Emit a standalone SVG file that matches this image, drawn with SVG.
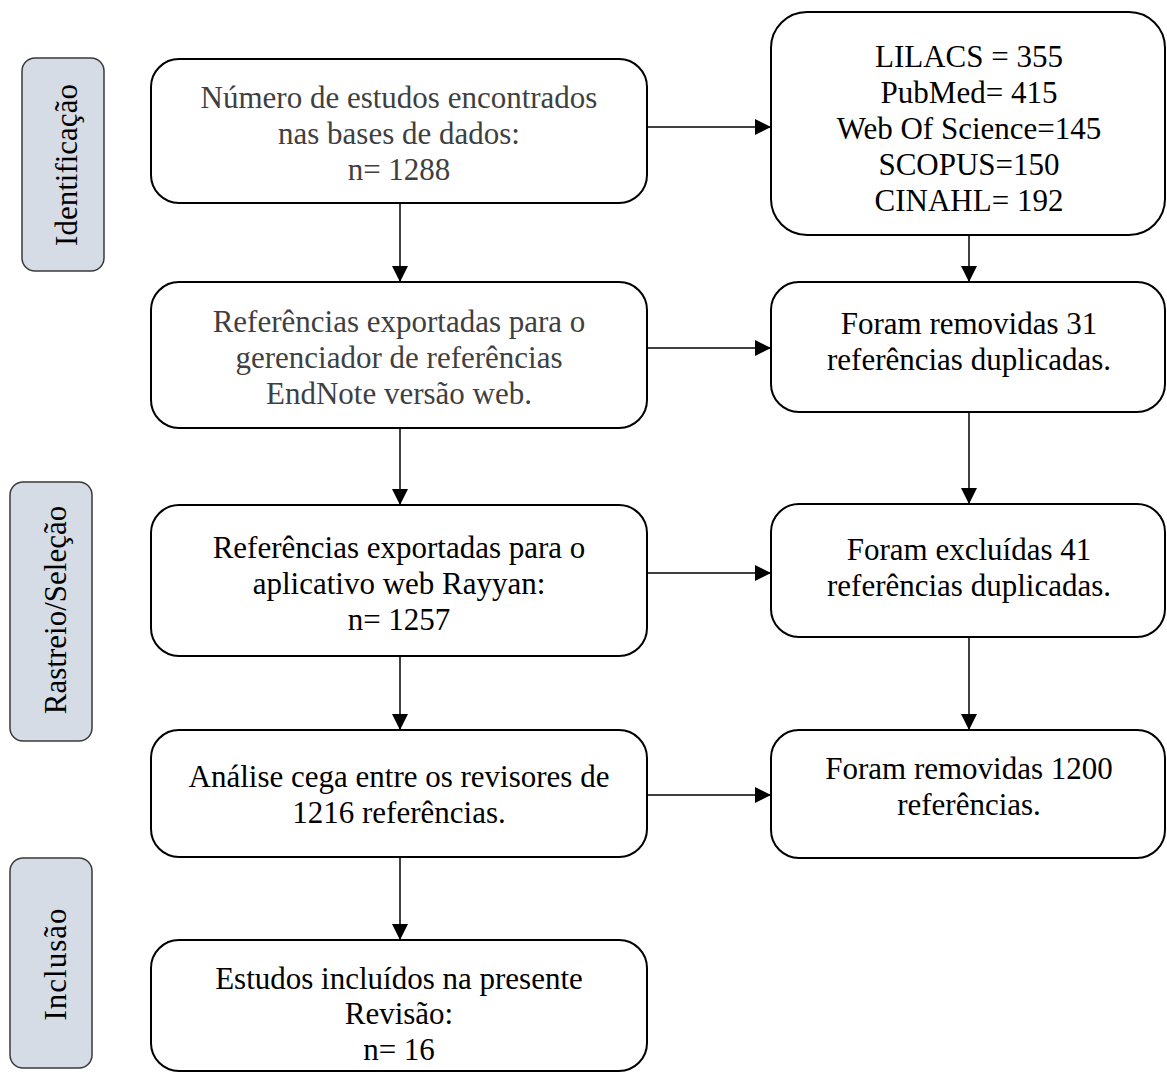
<svg xmlns="http://www.w3.org/2000/svg" width="1167" height="1073" viewBox="0 0 1167 1073">
<defs>
<marker id="ah" markerWidth="16" markerHeight="16" viewBox="0 0 16 16" refX="16" refY="8" orient="auto" markerUnits="userSpaceOnUse">
<path d="M0,0 L16,8 L0,16 Z" fill="#000"/>
</marker>
</defs>
<style>
.box{fill:#fff;stroke:#000;stroke-width:2}
.side{fill:#d6dce5;stroke:#3a3a3a;stroke-width:1.5}
.t{font-family:"Liberation Serif","Times New Roman",serif;font-size:31px;fill:#000;text-anchor:middle}
.g{fill:#3f3f3f}
.c{stroke:#000;stroke-width:1.5;fill:none;marker-end:url(#ah)}
</style>
<rect width="1167" height="1073" fill="#fff"/>

<g id="side-identificacao">
<rect class="side" x="22" y="58" width="82" height="213" rx="13"/>
<text class="t" transform="translate(77,165) rotate(-90)">Identificação</text>
</g>
<g id="side-rastreio">
<rect class="side" x="10" y="482" width="82" height="259" rx="13"/>
<text class="t" transform="translate(66,610) rotate(-90)">Rastreio/Seleção</text>
</g>
<g id="side-inclusao">
<rect class="side" x="10" y="858" width="82" height="210" rx="13"/>
<text class="t" transform="translate(66,964) rotate(-90)" letter-spacing="1">Inclusão</text>
</g>

<g id="n1">
<rect class="box" x="151" y="59" width="496" height="144" rx="28"/>
<text class="t g" x="399" y="108">Número de estudos encontrados</text>
<text class="t g" x="399" y="144">nas bases de dados:</text>
<text class="t g" x="399" y="180">n= 1288</text>
</g>
<g id="n2">
<rect class="box" x="151" y="282" width="496" height="146" rx="28"/>
<text class="t g" x="399" y="332">Referências exportadas para o</text>
<text class="t g" x="399" y="368">gerenciador de referências</text>
<text class="t g" x="399" y="404">EndNote versão web.</text>
</g>
<g id="n3">
<rect class="box" x="151" y="505" width="496" height="151" rx="28"/>
<text class="t" x="399" y="558">Referências exportadas para o</text>
<text class="t" x="399" y="594">aplicativo web Rayyan:</text>
<text class="t" x="399" y="630">n= 1257</text>
</g>
<g id="n4">
<rect class="box" x="151" y="730" width="496" height="127" rx="28"/>
<text class="t" x="399" y="787">Análise cega entre os revisores de</text>
<text class="t" x="399" y="823">1216 referências.</text>
</g>
<g id="n5">
<rect class="box" x="151" y="940" width="496" height="131" rx="28"/>
<text class="t" x="399" y="989">Estudos incluídos na presente</text>
<text class="t" x="399" y="1024">Revisão:</text>
<text class="t" x="399" y="1060">n= 16</text>
</g>

<g id="r1">
<rect class="box" x="771" y="12" width="394" height="223" rx="36"/>
<text class="t" x="969" y="67">LILACS = 355</text>
<text class="t" x="969" y="103">PubMed= 415</text>
<text class="t" x="969" y="139">Web Of Science=145</text>
<text class="t" x="969" y="175">SCOPUS=150</text>
<text class="t" x="969" y="211">CINAHL= 192</text>
</g>
<g id="r2">
<rect class="box" x="771" y="282" width="394" height="130" rx="28"/>
<text class="t" x="969" y="334">Foram removidas 31</text>
<text class="t" x="969" y="370">referências duplicadas.</text>
</g>
<g id="r3">
<rect class="box" x="771" y="504" width="394" height="133" rx="28"/>
<text class="t" x="969" y="560">Foram excluídas 41</text>
<text class="t" x="969" y="596">referências duplicadas.</text>
</g>
<g id="r4">
<rect class="box" x="771" y="730" width="394" height="128" rx="28"/>
<text class="t" x="969" y="779">Foram removidas 1200</text>
<text class="t" x="969" y="815">referências.</text>
</g>

<g id="connectors">
<line class="c" x1="648" y1="127" x2="771" y2="127"/>
<line class="c" x1="648" y1="348" x2="771" y2="348"/>
<line class="c" x1="648" y1="573" x2="771" y2="573"/>
<line class="c" x1="648" y1="795" x2="771" y2="795"/>
<line class="c" x1="400" y1="204" x2="400" y2="282"/>
<line class="c" x1="400" y1="429" x2="400" y2="505"/>
<line class="c" x1="400" y1="657" x2="400" y2="730"/>
<line class="c" x1="400" y1="858" x2="400" y2="940"/>
<line class="c" x1="969" y1="236" x2="969" y2="282"/>
<line class="c" x1="969" y1="413" x2="969" y2="504"/>
<line class="c" x1="969" y1="638" x2="969" y2="730"/>
</g>
</svg>
